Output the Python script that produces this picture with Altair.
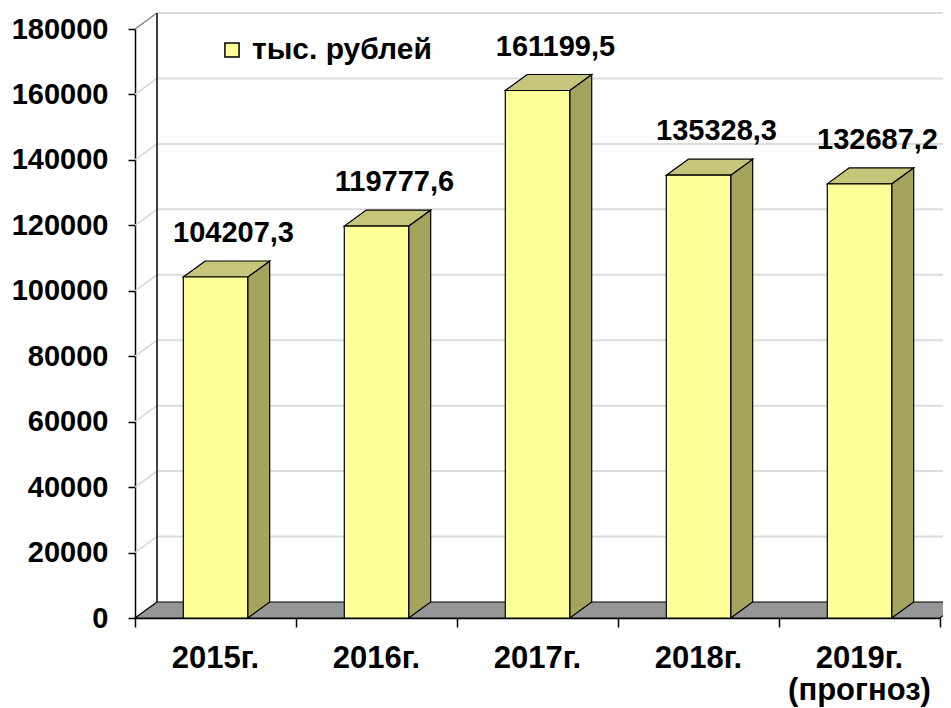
import altair as alt
import pandas as pd

# ---- data ----
categories = ["2015г.", "2016г.", "2017г.", "2018г.", "2019г.\n(прогноз)"]
values = [104207.3, 119777.6, 161199.5, 135328.3, 132687.2]
y_ticks = [0, 20000, 40000, 60000, 80000, 100000, 120000, 140000, 160000, 180000]
series_name = "тыс. рублей"

# ---- layout constants (3-D look) ----
N = len(categories)
BAR_W = 0.40          # bar width in category units
DX = 0.1366           # depth offset along x (category units)
DY = 4890             # depth offset along y (value units)
Y_MAX = 180000

FONT = "Liberation Sans"
FRONT = "#FFFF99"
SIDE = "#A4A45E"
TOP = "#C6C67A"
FLOOR = "#969696"

xs = alt.Scale(domain=[0, N], nice=False, zero=False)
ys = alt.Scale(domain=[0, Y_MAX], nice=False, zero=False)

labels = [f"{v:.1f}".replace(".", ",") for v in values]

front_df = pd.DataFrame({
    "cat": categories,
    "x0": [i + 0.5 - BAR_W / 2 for i in range(N)],
    "x1": [i + 0.5 + BAR_W / 2 for i in range(N)],
    "xc": [i + 0.5 for i in range(N)],
    "y0": [0] * N,
    "v": values,
    "label": labels,
    "series": [series_name] * N,
})

side_rows, top_rows = [], []
for i, (c, v) in enumerate(zip(categories, values)):
    xr = i + 0.5 + BAR_W / 2
    xl = i + 0.5 - BAR_W / 2
    side_rows.append({"cat": c, "sx": xr, "slo": 0, "shi": v})
    side_rows.append({"cat": c, "sx": xr + DX, "slo": DY, "shi": v + DY})
    top_rows.append({"cat": c, "ty": v, "tl": xl, "tr": xr})
    top_rows.append({"cat": c, "ty": v + DY, "tl": xl + DX, "tr": xr + DX})
side_df = pd.DataFrame(side_rows)
top_df = pd.DataFrame(top_rows)

grid_df = pd.DataFrame({
    "t": y_ticks,
    "gx0": [DX] * len(y_ticks),
    "gx1": [N + DX] * len(y_ticks),
    "gy": [t + DY for t in y_ticks],
    "dx0": [0] * len(y_ticks),
    "dx1": [DX] * len(y_ticks),
})
grid_df = grid_df[grid_df["t"] > 0]

floor_df = pd.DataFrame({"fy": [0, DY], "fl": [0, DX], "fr": [N, N + DX]})
wall_df = pd.DataFrame({"wx": [DX], "wy0": [DY], "wy1": [Y_MAX + DY]})

y_axis = alt.Axis(values=y_ticks, title=None, grid=False, labelFont=FONT,
                  labelFontWeight="bold", labelFontSize=29, labelColor="black",
                  tickColor="black", tickSize=7, tickWidth=1.5, domainColor="black",
                  domainWidth=1.5, labelPadding=20, format="d", labelFlush=False)
x_axis = alt.Axis(values=list(range(N + 1)), title=None, grid=False, labels=False,
                  tickColor="black", tickSize=9, tickWidth=1.5, domainColor="black",
                  domainWidth=1.5)


def X(field):
    return alt.X(field, scale=xs, axis=x_axis)


def Y(field):
    return alt.Y(field, scale=ys, axis=y_axis)


back_grid = alt.Chart(grid_df).mark_rule(color="#DCDCDC", strokeWidth=2).encode(
    x=X("gx0:Q"), x2="gx1:Q", y=Y("gy:Q"),
)

side_grid = alt.Chart(grid_df).mark_rule(strokeWidth=1.5).encode(
    x=X("dx0:Q"), x2="dx1:Q", y=Y("t:Q"), y2="gy:Q",
    color=alt.condition(alt.datum.t == Y_MAX, alt.value("#808080"), alt.value("#D6D6D6")),
)

back_wall = alt.Chart(wall_df).mark_rule(color="black", strokeWidth=1.5).encode(
    x=X("wx:Q"), y=Y("wy0:Q"), y2="wy1:Q",
)

floor = alt.Chart(floor_df).mark_area(orient="horizontal", fill=FLOOR, stroke="black",
                                      strokeWidth=1.2).encode(
    y=Y("fy:Q"), x=X("fl:Q"), x2="fr:Q",
)

side = alt.Chart(side_df).mark_area(orient="vertical", fill=SIDE, stroke="black",
                                    strokeWidth=1.2).encode(
    x=X("sx:Q"), y=Y("shi:Q"), y2="slo:Q", detail="cat:N",
)

top = alt.Chart(top_df).mark_area(orient="horizontal", fill=TOP, stroke="black",
                                  strokeWidth=1.2).encode(
    y=Y("ty:Q"), x=X("tl:Q"), x2="tr:Q", detail="cat:N",
)

front = alt.Chart(front_df).mark_rect(stroke="black", strokeWidth=1.2).encode(
    x=X("x0:Q"), x2="x1:Q", y=Y("v:Q"), y2="y0:Q",
    color=alt.Color("series:N", scale=alt.Scale(range=[FRONT]),
                    legend=alt.Legend(title=None, orient="none", legendX=82, legendY=6,
                                      symbolType="square", symbolSize=200,
                                      symbolStrokeColor="black", symbolStrokeWidth=1.5,
                                      labelFont=FONT, labelFontWeight="bold",
                                      labelFontSize=30, labelColor="black",
                                      labelOffset=5, labelLimit=0, padding=0)),
)

value_text = alt.Chart(front_df).mark_text(font=FONT, fontWeight="bold", fontSize=29,
                                           color="black", dx=18, dy=-44,
                                           baseline="middle", align="center").encode(
    x=X("xc:Q"), y=Y("v:Q"), text="label:N",
)

cat_text = alt.Chart(front_df).mark_text(font=FONT, fontWeight="bold", fontSize=31,
                                         color="black", baseline="alphabetic",
                                         align="center", lineBreak="\n",
                                         lineHeight=32).encode(
    x=X("xc:Q"), y=alt.value(639), text="cat:N",
)

chart = alt.layer(back_grid, side_grid, back_wall, floor, side, top, front,
                  value_text, cat_text).properties(
    width=805, height=589,
    autosize=alt.AutoSizeParams(type="none"),
    padding={"left": 127, "top": 21, "right": 3, "bottom": 89},
    background="white",
).configure_view(stroke=None)

chart.save("out.html", embed_options={"renderer": "svg", "actions": False})
